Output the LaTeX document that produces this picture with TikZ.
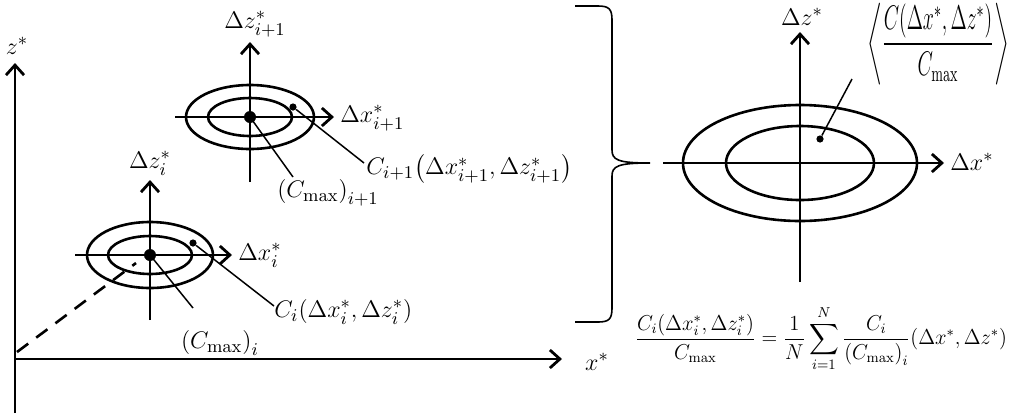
\documentclass[tikz,border=0pt]{standalone}
\usepackage{graphicx}
\usepackage{amsmath}
\usetikzlibrary{arrows.meta}
\begin{document}
\begin{tikzpicture}[x=0.5pt,y=-0.5pt,
  axis/.style={line width=1.4pt,-{Straight Barb[length=5pt,width=9pt,line width=1.4pt]}},
  ell/.style={line width=1.3pt},
  leader/.style={line width=0.75pt},
  bigdot/.style={circle,fill=black,inner sep=0pt,minimum size=6pt},
  smalldot/.style={circle,fill=black,inner sep=0pt,minimum size=3.6pt},
  lbl/.style={inner sep=1pt,font=\fontsize{12.5}{15}\selectfont},
  eqlbl/.style={inner sep=1pt,font=\fontsize{12}{14}\selectfont}]
\useasboundingbox (0,0) rectangle (1011,414);
% main axes
\coordinate (O) at (15,359);
\coordinate (zb) at (15,413);
\coordinate (zt) at (15,63);
\coordinate (xl) at (15,359);
\coordinate (xr) at (562,359);
\draw[axis] (zb) -- (zt);
\draw[axis] (xl) -- (xr);
\node[lbl] (zlab) at (17,46) {$z^*$};
\node[lbl] (xlab) at (597,362) {$x^*$};
% ellipse i
\coordinate (ci) at (150,255);
\draw[ell] (ci) ellipse [x radius=63, y radius=33];
\draw[ell] (ci) ellipse [x radius=42, y radius=19];
\coordinate (ixl) at (75,255);
\coordinate (ixr) at (232,255);
\coordinate (izb) at (150,320);
\coordinate (izt) at (150,180);
\draw[axis] (ixl) -- (ixr);
\draw[axis] (izb) -- (izt);
\coordinate (dstart) at (17,352);
\coordinate (dashend) at (136,263);
\draw[line width=1.3pt,dash pattern=on 7pt off 5pt] (dstart) -- (dashend);
\node[bigdot] (cmi) at (ci) {};
\node[smalldot] (pi) at (193,243) {};
\coordinate (pie) at (274,306);
\coordinate (cmie) at (193,308);
\draw[leader] (pi) -- (pie);
\draw[leader] (cmi.center) -- (cmie);
\node[lbl,anchor=west] (dxi) at (236,255) {$\Delta x_i^*$};
\node[lbl] (dzi) at (150,163) {$\Delta z_i^*$};
\node[lbl,anchor=west] (Ci) at (272,312) {$C_i\!\left(\Delta x_i^*,\Delta z_i^*\right)$};
\node[lbl] (Cmi) at (220,343) {$\left(C_{\max}\right)_i$};
% ellipse i+1
\coordinate (cj) at (250,117);
\draw[ell] (cj) ellipse [x radius=64, y radius=32];
\draw[ell] (cj) ellipse [x radius=42, y radius=19];
\coordinate (jxl) at (175,117);
\coordinate (jxr) at (334,117);
\coordinate (jzb) at (250,182);
\coordinate (jzt) at (250,42);
\draw[axis] (jxl) -- (jxr);
\draw[axis] (jzb) -- (jzt);
\node[bigdot] (cmj) at (cj) {};
\node[smalldot] (pj) at (293,107) {};
\coordinate (pje) at (364,163);
\coordinate (cmje) at (293,177);
\draw[leader] (pj) -- (pje);
\draw[leader] (cmj.center) -- (cmje);
\node[lbl,anchor=west] (dxj) at (338,118) {$\Delta x_{i+1}^*$};
\node[lbl] (dzj) at (255,24) {$\Delta z_{i+1}^*$};
\node[lbl,anchor=west] (Cj) at (364,169) {$C_{i+1}\!\left(\Delta x_{i+1}^*,\Delta z_{i+1}^*\right)$};
\node[lbl] (Cmj) at (328,193) {$\left(C_{\max}\right)_{i+1}$};
% brace
\draw[line width=0.8pt] (575,6) -- (598,6) .. controls (609,6) and (612,9) .. (612,20)
  -- (612,150) .. controls (612,160) and (618,163) .. (650,163)
  .. controls (618,163) and (612,166) .. (612,176)
  -- (612,308) .. controls (612,319) and (609,322) .. (598,322) -- (575,322);
% right ellipse
\coordinate (ck) at (800,163);
\draw[ell] (ck) ellipse [x radius=117, y radius=58];
\draw[ell] (ck) ellipse [x radius=74, y radius=37];
\coordinate (kxl) at (663,163);
\coordinate (kxr) at (944,163);
\coordinate (kzb) at (800,282);
\coordinate (kzt) at (800,32);
\draw[axis] (kxl) -- (kxr);
\draw[axis] (kzb) -- (kzt);
\node[smalldot] (pk) at (820,139) {};
\coordinate (pke) at (852,79);
\draw[leader] (pk) -- (pke);
\node[lbl] (dzk) at (802,17) {$\Delta z^*$};
\node[lbl,anchor=west] (dxk) at (948,162) {$\Delta x^*$};
\node[eqlbl] (avg) at (938,44) {\resizebox*{71pt}{41pt}{$\left\langle \dfrac{C\!\left(\Delta x^*,\Delta z^*\right)}{C_{\max}}\right\rangle$}};
% formula
\node[eqlbl] (eq) at (821,339) {\resizebox*{186pt}{33pt}{$\displaystyle\frac{C_i\!\left(\Delta x_i^*,\Delta z_i^*\right)}{C_{\max}}=\frac{1}{N}\sum_{i=1}^{N}\frac{C_i}{\left(C_{\max}\right)_i}\!\left(\Delta x^*,\Delta z^*\right)$}};
\end{tikzpicture}
\end{document}
